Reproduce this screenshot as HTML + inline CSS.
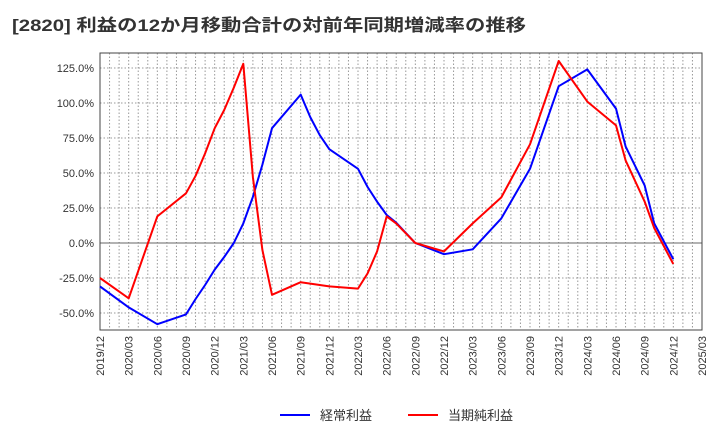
<!DOCTYPE html>
<html><head><meta charset="utf-8"><style>
body{margin:0;background:#fff;font-family:"Liberation Sans","Noto Sans CJK JP",sans-serif}
</style></head><body>
<svg id="c" width="720" height="440" xmlns="http://www.w3.org/2000/svg">
<text x="12" y="31" font-size="17" font-weight="bold" fill="#333" textLength="514" lengthAdjust="spacingAndGlyphs" font-family="Liberation Sans, Noto Sans CJK JP, sans-serif">[2820]  利益の12か月移動合計の対前年同期増減率の推移</text>
<g id="grid"></g><g id="axes"></g><g id="series"></g>
<g>
<line x1="280" y1="415" x2="310" y2="415" stroke="#0000ff" stroke-width="2"/>
<text x="320" y="420" font-size="13" fill="#333">経常利益</text>
<line x1="408" y1="415" x2="438" y2="415" stroke="#ff0000" stroke-width="2"/>
<text x="448" y="420" font-size="13" fill="#333">当期純利益</text>
</g>
</svg>
<script>
const yTicks=[-50,-25,0,25,50,75,100,125];
const xTickLabels=["2019/12","2020/03","2020/06","2020/09","2020/12","2021/03","2021/06","2021/09","2021/12","2022/03","2022/06","2022/09","2022/12","2023/03","2023/06","2023/09","2023/12","2024/03","2024/06","2024/09","2024/12","2025/03"];
const blueMonths=[0,3,6,9,10,11,12,13,14,15,16,17,18,21,22,23,24,27,28,29,30,31,33,36,39,42,45,48,51,54,55,57,58,60];
const blueValues=[-31,-46,-58,-51,-40,-30,-19,-10,0,14,33,56,82,106,90,77,67,53,40,29.5,20,14.5,0,-8,-4.5,17.6,53,112,124,96,69,41,14,-11.6];
const redMonths=[0,3,6,9,10,11,12,13,14,15,16,17,18,21,24,27,28,29,30,31,33,36,39,42,45,48,51,54,55,57,58,60];
const redValues=[-25,-39.5,19,35.5,48,64,82,95,111,128,47,-5,-37,-28,-31,-32.6,-21.7,-6,19,14,0,-6,14,32.6,70.5,130,101,84,59,29.5,10.7,-15];
const L=100,R=702,T=53,B=330;
const xs=m=>L+m*(R-L)/63;
const ys=v=>243-v*35/25;
const NS="http://www.w3.org/2000/svg";
function mk(tag,attrs,parent){const e=document.createElementNS(NS,tag);for(const k in attrs)e.setAttribute(k,attrs[k]);parent.appendChild(e);return e;}
const grid=document.getElementById('grid'),axes=document.getElementById('axes'),ser=document.getElementById('series');
for(let m=1;m<63;m++){const l=mk('line',{x1:xs(m),x2:xs(m),y1:T,y2:B,stroke:'#999','stroke-dasharray':'1.5,2','stroke-width':1},grid);

}
yTicks.forEach(v=>{const y=ys(v);const l=mk('line',{x1:L,x2:R,y1:y,y2:y,stroke:v===0?'#666':'#999','stroke-dasharray':v===0?'':'1.5,2','stroke-width':1},grid);


const t=mk('text',{x:94,y:y+4,'text-anchor':'end','font-size':11,fill:'#333'},axes);t.textContent=v.toFixed(1)+'%';

});
const fr=mk('rect',{x:L,y:T,width:R-L,height:B-T,fill:'none',stroke:'#444','stroke-width':1},axes);


xTickLabels.forEach((s,i)=>{const x=xs(i*3);const t=mk('text',{x:0,y:0,transform:`translate(${x+4},336) rotate(-90)`,'text-anchor':'end','font-size':11,fill:'#333'},axes);t.textContent=s;

});
function line(ms,vs,color,name){const p=ms.map((m,i)=>xs(m).toFixed(1)+','+ys(vs[i]).toFixed(1)).join(' ');
const e=mk('polyline',{points:p,fill:'none',stroke:color,'stroke-width':2,'stroke-linejoin':'round'},ser);

}
line(blueMonths,blueValues,'#0000ff','ordinary-profit-line');
line(redMonths,redValues,'#ff0000','net-profit-line');
</script>
</body></html>
